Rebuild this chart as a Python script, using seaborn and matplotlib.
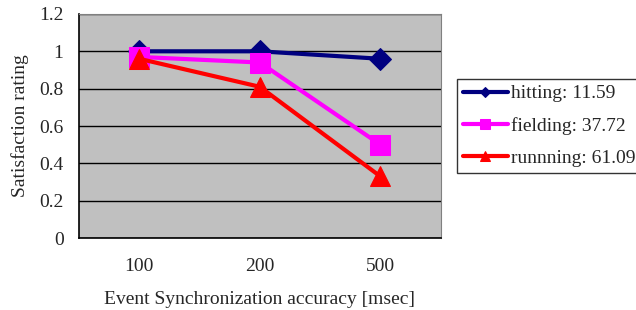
import numpy as np
import pandas as pd
import seaborn as sns
import matplotlib.pyplot as plt

# 数据
accuracy = ['100', '200', '500']
hitting = [1.00, 1.00, 0.96]
fielding = [0.97, 0.94, 0.50]
running = [0.96, 0.81, 0.33]
series_names = ['hitting: 11.59', 'fielding: 37.72', 'runnning: 61.09']

df = pd.DataFrame({
    'acc': accuracy * 3,
    'rating': hitting + fielding + running,
    'series': [series_names[0]] * 3 + [series_names[1]] * 3 + [series_names[2]] * 3,
})

sns.set_style('white')
plt.rcParams['font.family'] = ['Liberation Serif', 'DejaVu Serif']

fig = plt.figure(figsize=(6.36, 3.10), dpi=100)
ax = fig.add_axes([0.124, 0.232, 0.569, 0.723])
ax.set_facecolor('#C0C0C0')

colors = ['#000080', '#FF00FF', '#FF0000']
markers = ['D', 's', '^']
sizes = [11, 15, 15]
for name, c, m, s in zip(series_names, colors, markers, sizes):
    sub = df[df.series == name]
    sns.lineplot(data=sub, x='acc', y='rating', ax=ax, color=c, marker=m,
                 markersize=s, linewidth=3, markeredgecolor=c, label=name, sort=False)

ax.set_xlim(-0.5, 2.5)
ax.set_ylim(0, 1.2)
ax.set_yticks(np.arange(0, 1.21, 0.2))
ax.set_yticklabels(['0', '0.2', '0.4', '0.6', '0.8', '1', '1.2'])
ax.yaxis.grid(True, color='black', linewidth=1)
ax.set_axisbelow(True)
ax.set_xticks([0.5, 1.5], minor=True)
ax.tick_params(axis='x', which='major', length=0, pad=14, labelsize=14)
ax.tick_params(axis='x', which='minor', length=4, direction='in', color='black')
ax.tick_params(axis='y', which='major', length=4, direction='out', labelsize=14, pad=7)
for sp in ['left', 'bottom']:
    ax.spines[sp].set_color('black')
    ax.spines[sp].set_linewidth(1.2)
for sp in ['top', 'right']:
    ax.spines[sp].set_color('#808080')

ax.set_xlabel('Event Synchronization accuracy [msec]', fontsize=14, labelpad=12)
ax.set_ylabel('Satisfaction rating', fontsize=14, labelpad=7)

leg = fig.legend(loc='upper left', bbox_to_anchor=(457 / 636, 1 - 79 / 310), frameon=True,
                 fancybox=False, shadow=False, fontsize=14, handlelength=2.3, borderpad=0.3,
                 labelspacing=0.75, handletextpad=0.2, borderaxespad=0, markerscale=0.5)
leg.get_frame().set_edgecolor('black')
leg.get_frame().set_linewidth(1)
ax.get_legend().remove()

fig.savefig('out.png', dpi=100)
